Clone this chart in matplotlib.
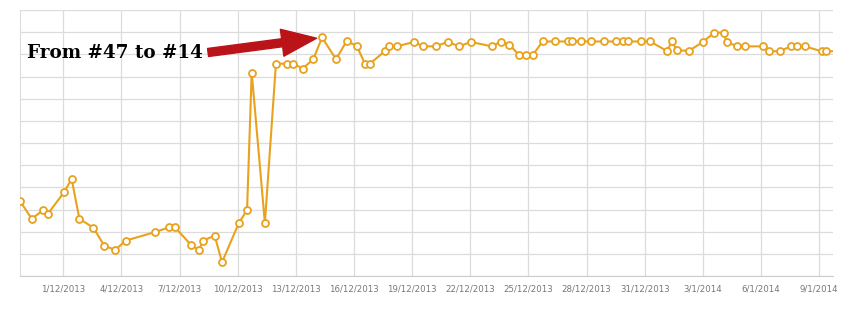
import matplotlib
matplotlib.use('Agg')
import matplotlib.pyplot as plt
import pandas as pd
from matplotlib.ticker import FuncFormatter

# days after 1 Dec 2013
days = [-2.23, -1.63, -1.03, -0.80, 0.04, 0.43, 0.83, 1.55, 2.12, 2.68,
        3.23, 4.73, 5.47, 5.76, 6.59, 7.00, 7.22, 7.81, 8.19, 9.05,
        9.48, 9.72, 10.40, 10.97, 11.52, 11.86, 12.35, 12.90, 13.35, 14.07,
        14.62, 15.14, 15.56, 15.82, 16.59, 16.80, 17.20, 18.11, 18.54, 19.21,
        19.83, 20.43, 21.03, 22.10, 22.56, 23.01, 23.52, 23.85, 24.21, 24.73,
        25.36, 26.05, 26.23, 26.69, 27.22, 27.88, 28.51, 28.87, 29.15, 29.79,
        30.27, 31.13, 31.42, 31.64, 32.28, 33.00, 33.58, 34.07, 34.22, 34.77,
        35.19, 36.11, 36.42, 36.96, 37.53, 37.83, 38.25, 39.12, 39.33, 40.05]

# search rank (lower is better)
ranks = [51.1, 55.1, 53.1, 54.0, 49.1, 46.1, 55.1, 57.1, 61.2, 62.1,
         60.0, 58.1, 57.0, 57.0, 61.0, 62.1, 60.0, 58.9, 64.9, 56.1,
         53.1, 22.1, 56.1, 20.1, 20.1, 20.1, 21.2, 19.1, 14.2, 19.1,
         15.0, 16.1, 20.1, 20.1, 17.3, 16.2, 16.2, 15.2, 16.2, 16.2,
         15.2, 16.2, 15.2, 16.2, 15.2, 15.8, 18.2, 18.2, 18.2, 15.1,
         15.1, 15.1, 15.1, 15.1, 15.1, 15.1, 15.1, 15.1, 15.1, 15.1,
         15.1, 17.2, 15.1, 17.1, 17.2, 15.2, 13.1, 13.1, 15.2, 16.2,
         16.2, 16.2, 17.3, 17.3, 16.2, 16.2, 16.2, 17.3, 17.3, 17.3]

tick_dates = pd.date_range('2013-12-01', periods=14, freq='3D')
annotation = 'From #47 to #14'

start = pd.Timestamp('2013-12-01')
dates = start + pd.to_timedelta(days, unit='D')

fig = plt.figure(figsize=(8.5, 3.13), dpi=100)
ax = fig.add_axes([20 / 850, 37 / 313, 813 / 850, 266 / 313])

ax.plot(dates, ranks, color='#e8a21e', lw=1.5, marker='o', ms=5,
        mfc='white', mec='#e8a21e', mew=1.3, zorder=3)

ax.set_xlim(start + pd.Timedelta(days=-2.234), start + pd.Timedelta(days=39.71))
ax.set_ylim(68, 8)
ax.set_yticks(range(8, 69, 5))
ax.set_xticks(tick_dates)
ax.xaxis.set_major_formatter(FuncFormatter(
    lambda v, p: (lambda d: f'{d.day}/{d.month}/{d.year}')(matplotlib.dates.num2date(v))))
ax.tick_params(axis='y', length=0, labelleft=False)
ax.tick_params(axis='x', length=0, pad=6, labelsize=6.2, labelcolor='#777777')
ax.grid(True, color='#dcdcdc', lw=0.9)
ax.set_axisbelow(True)
for s in ['top', 'right']:
    ax.spines[s].set_visible(False)
ax.spines['left'].set_color('#dcdcdc')
ax.spines['bottom'].set_color('#cccccc')

# big red arrow to the best rank
best = ranks.index(min(ranks[:40]))
ax.annotate('', xy=(dates[best], ranks[best]), xytext=(-114, -15),
            textcoords='offset pixels',
            arrowprops=dict(arrowstyle='simple,head_width=1.95,head_length=2.5,tail_width=0.58',
                            color='#bb1418', shrinkA=0, shrinkB=4),
            zorder=4)
fig.text(27 / 850, 1 - 58 / 313, annotation, fontsize=13.2, fontweight='heavy',
         family='DejaVu Serif', color='black', va='baseline', ha='left')

fig.savefig('out.png', dpi=100)
